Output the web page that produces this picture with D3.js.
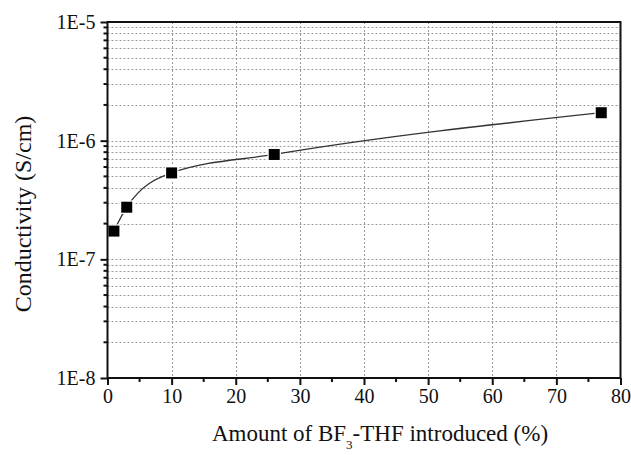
<!DOCTYPE html>
<html>
<head>
<meta charset="utf-8">
<script src="https://cdn.jsdelivr.net/npm/d3@7"></script>
</head>
<body style="margin:0">
<svg id="fig" width="631" height="455"></svg>
<script>
// Data
const amountBF3 = [1, 3, 10, 26, 77];                       // %
const conductivity = [1.73e-7, 2.75e-7, 5.35e-7, 7.65e-7, 1.72e-6]; // S/cm
const xTicks = [0, 10, 20, 30, 40, 50, 60, 70, 80];
const yMajorTicks = [1e-8, 1e-7, 1e-6, 1e-5];
const yTickLabels = ["1E-8", "1E-7", "1E-6", "1E-5"];

const FONT = "Liberation Serif";
const W = 631, H = 455;
const m = { left: 107.5, right: 10.5, top: 22, bottom: 77 };
const svg = d3.select("#fig");

const x = d3.scaleLinear().domain([0, 80]).range([m.left, W - m.right]);
const y = d3.scaleLog().domain([1e-8, 1e-5]).range([H - m.bottom, m.top]);

// minor log ticks
const yMinor = [];
for (let e = -8; e < -5; e++) for (let k = 2; k <= 9; k++) yMinor.push(k * Math.pow(10, e));
const xMinor = d3.range(5, 80, 10);

// Grid
const grid = svg.append("g").attr("stroke", "#9a9a9a").attr("stroke-width", 1)
  .attr("stroke-dasharray", "2,2").attr("fill", "none");
grid.selectAll("line.gy").data(yMinor.concat([1e-7, 1e-6])).join("line")
  .attr("x1", x(0)).attr("x2", x(80))
  .attr("y1", d => Math.round(y(d)) + 0.5).attr("y2", d => Math.round(y(d)) + 0.5);
grid.selectAll("line.gx").data(xTicks.slice(1, -1)).join("line")
  .attr("y1", y(1e-5)).attr("y2", y(1e-8))
  .attr("x1", d => Math.round(x(d)) + 0.5).attr("x2", d => Math.round(x(d)) + 0.5);

// Line (smooth) and markers
const line = d3.line().x((d, i) => x(amountBF3[i])).y(d => y(d)).curve(d3.curveMonotoneX);
svg.append("path").datum(conductivity).attr("d", line)
  .attr("fill", "none").attr("stroke", "#333").attr("stroke-width", 1.3);

const ms = 11;
svg.selectAll("rect.pt").data(conductivity).join("rect")
  .attr("x", (d, i) => x(amountBF3[i]) - ms / 2)
  .attr("y", d => y(d) - ms / 2)
  .attr("width", ms).attr("height", ms)
  .attr("fill", "#000").attr("stroke", "#fff").attr("stroke-width", 2.5)
  .attr("paint-order", "stroke");

// Frame
svg.append("rect").attr("x", x(0)).attr("y", y(1e-5))
  .attr("width", x(80) - x(0)).attr("height", y(1e-8) - y(1e-5))
  .attr("fill", "none").attr("stroke", "#111").attr("stroke-width", 2);

// X axis
const xAxis = d3.axisBottom(x).tickValues(xTicks).tickFormat(d3.format("d")).tickSize(7).tickPadding(4);
const gx = svg.append("g").attr("transform", `translate(0,${y(1e-8)})`).call(xAxis);
gx.attr("font-family", FONT);
gx.select(".domain").remove();
gx.selectAll(".tick line").attr("stroke", "#111").attr("stroke-width", 2);
gx.selectAll(".tick text").attr("font-size", 20).attr("fill", "#111").style("font-family", FONT);
const gxm = svg.append("g").attr("transform", `translate(0,${y(1e-8)})`);
gxm.selectAll("line").data(xMinor).join("line")
  .attr("x1", d => x(d)).attr("x2", d => x(d)).attr("y1", 0).attr("y2", 4)
  .attr("stroke", "#111").attr("stroke-width", 2);

// Y axis
const yAxis = d3.axisLeft(y).tickValues(yMajorTicks)
  .tickFormat((d, i) => yTickLabels[i]).tickSize(7).tickPadding(5);
const gy = svg.append("g").attr("transform", `translate(${x(0)},0)`).call(yAxis);
gy.attr("font-family", FONT);
gy.select(".domain").remove();
gy.selectAll(".tick line").attr("stroke", "#111").attr("stroke-width", 2);
gy.selectAll(".tick text").attr("font-size", 20).attr("fill", "#111").style("font-family", FONT);
const gym = svg.append("g").attr("transform", `translate(${x(0)},0)`);
gym.selectAll("line").data(yMinor).join("line")
  .attr("x1", -4).attr("x2", 0).attr("y1", d => y(d)).attr("y2", d => y(d))
  .attr("stroke", "#111").attr("stroke-width", 2);

// Axis titles
const xt = svg.append("text").attr("x", (x(0) + x(80)) / 2 + 16).attr("y", 441)
  .attr("text-anchor", "middle").attr("font-size", 23).attr("fill", "#111")
  .style("font-family", FONT);
xt.append("tspan").text("Amount of BF");
xt.append("tspan").text("3").attr("font-size", 13).attr("dy", 8);
xt.append("tspan").text("-THF introduced (%)").attr("dy", -8);

svg.append("text").attr("transform", `translate(31,214) rotate(-90)`)
  .attr("text-anchor", "middle").attr("font-size", 24).attr("fill", "#111")
  .style("font-family", FONT).text("Conductivity (S/cm)");
</script>
</body>
</html>
